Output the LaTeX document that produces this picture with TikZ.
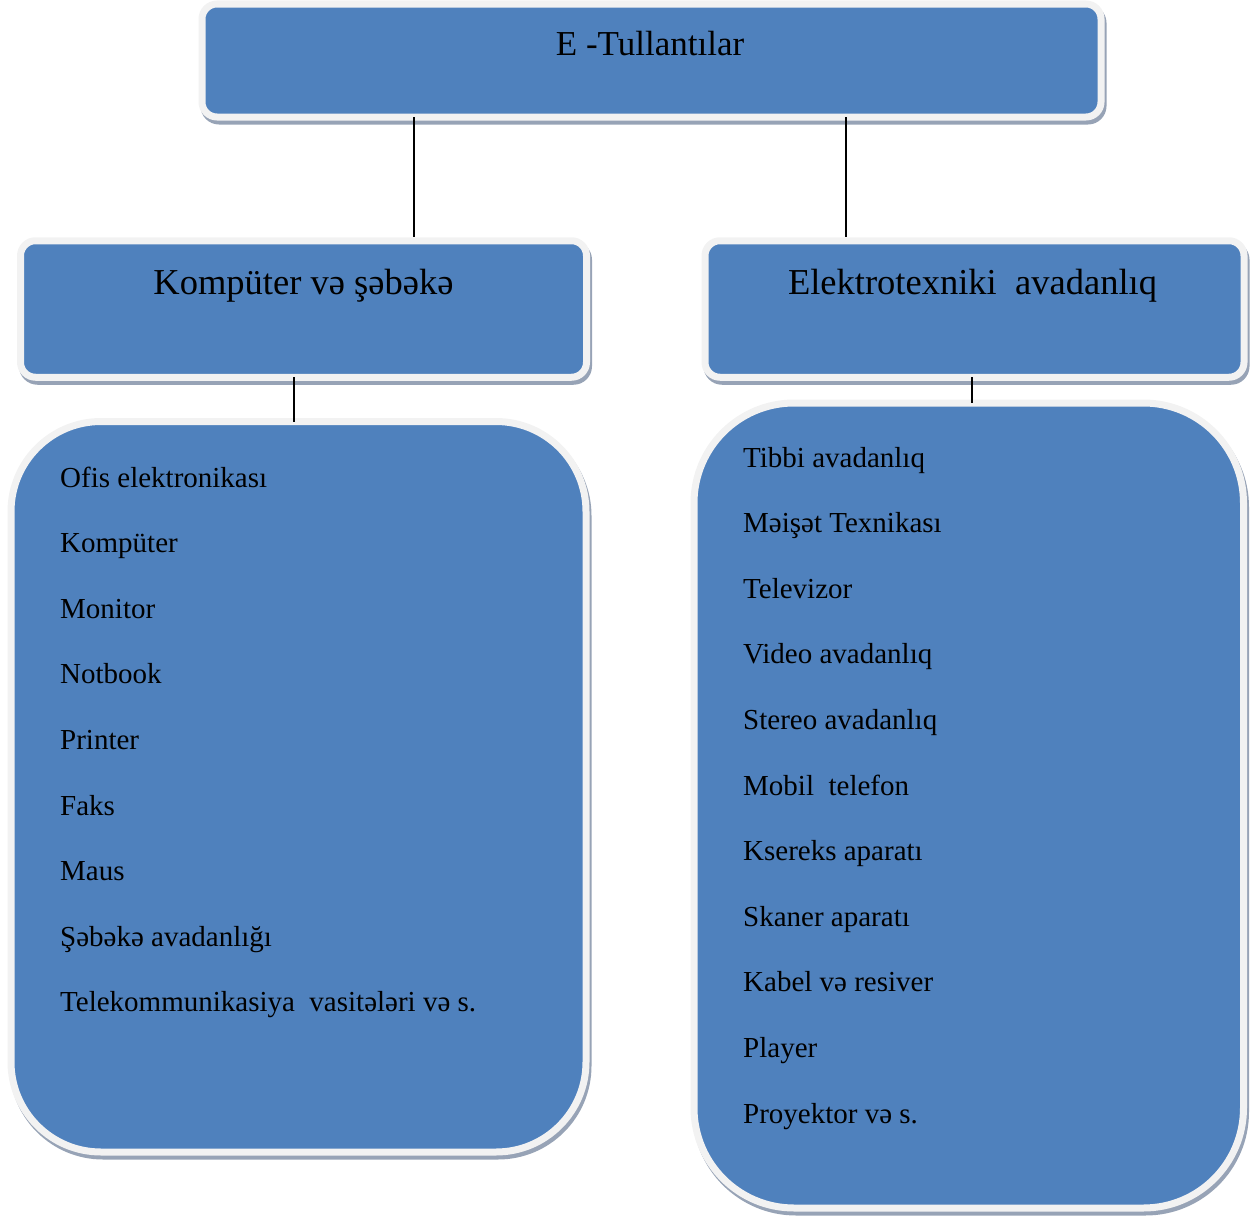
\documentclass[tikz,border=0pt]{standalone}
\usepackage{fontspec}
\setmainfont{Liberation Serif}
\definecolor{boxblue}{HTML}{4F81BD}
\definecolor{rim}{HTML}{F2F2F2}
\definecolor{shade}{HTML}{97A3B6}
\begin{document}
\begin{tikzpicture}[x=1pt,y=-1pt,
  panel/.style={rectangle, draw=rim, line width=7pt, fill=boxblue,
    inner sep=0pt, outer sep=0pt, rounded corners=#1,
    preaction={draw=shade, fill=shade, line width=7pt,
      transform canvas={shift={(2pt,-4pt)}}}},
  panel/.default=15pt,
  headtext/.style={anchor=base, inner sep=0pt, font=\fontsize{36.5}{42}\selectfont},
  itemtext/.style={anchor=base west, inner sep=0pt, font=\fontsize{29}{34}\selectfont},
  link/.style={draw=black, line width=1.5pt}
]
\useasboundingbox (0,0) rectangle (1254,1218);

% boxes
\node[panel, minimum width=899pt, minimum height=113pt] (top) at (651.5,60.5) {};
\node[panel, minimum width=566pt, minimum height=136.5pt] (kv) at (303.5,309) {};
\node[panel, minimum width=539pt, minimum height=136.5pt] (et) at (974.5,309) {};
\node[panel=90pt, minimum width=575pt, minimum height=730.5pt] (kvlist) at (298.5,786.75) {};
\node[panel=100pt, minimum width=549.5pt, minimum height=805pt] (etlist) at (968.75,805.5) {};

% connectors
\coordinate (t1) at (414,117);
\coordinate (t2) at (846,117);
\coordinate (k1) at (294,377);
\coordinate (e1) at (972,377);
\draw[link, shorten >=3.5pt] (t1) -- (t1 |- kv.north);
\draw[link, shorten >=3.5pt] (t2) -- (t2 |- et.north);
\draw[link] (k1) -- (k1 |- kvlist.north);
\draw[link] (e1) -- (e1 |- etlist.north);

% headings
\node[headtext, font=\fontsize{35}{42}\selectfont] (ttl) at (650,55) {E -Tullantılar};
\node[headtext] (kvh) at (303.5,294) {Kompüter və şəbəkə};
\node[headtext] (eth) at (972.5,294) {Elektrotexniki\ \ avadanlıq};

% left list
\node[itemtext] (a1) at (60,487) {Ofis elektronikası};
\node[itemtext] (a2) at (60,552.6) {Kompüter};
\node[itemtext] (a3) at (60,618.2) {Monitor};
\node[itemtext] (a4) at (60,683.8) {Notbook};
\node[itemtext] (a5) at (60,749.4) {Printer};
\node[itemtext] (a6) at (60,815) {Faks};
\node[itemtext] (a7) at (60,880.6) {Maus};
\node[itemtext] (a8) at (60,946.2) {Şəbəkə avadanlığı};
\node[itemtext] (a9) at (60,1011.8) {Telekommunikasiya\ \ vasitələri və s.};

% right list
\node[itemtext] (b1) at (743,467) {Tibbi avadanlıq};
\node[itemtext] (b2) at (743,532.6) {Məişət Texnikası};
\node[itemtext] (b3) at (743,598.2) {Televizor};
\node[itemtext] (b4) at (743,663.8) {Video avadanlıq};
\node[itemtext] (b5) at (743,729.4) {Stereo avadanlıq};
\node[itemtext] (b6) at (743,795) {Mobil\ \ telefon};
\node[itemtext] (b7) at (743,860.6) {Ksereks aparatı};
\node[itemtext] (b8) at (743,926.2) {Skaner aparatı};
\node[itemtext] (b9) at (743,991.8) {Kabel və resiver};
\node[itemtext] (b10) at (743,1057.4) {Player};
\node[itemtext] (b11) at (743,1123) {Proyektor və s.};
\end{tikzpicture}
\end{document}
